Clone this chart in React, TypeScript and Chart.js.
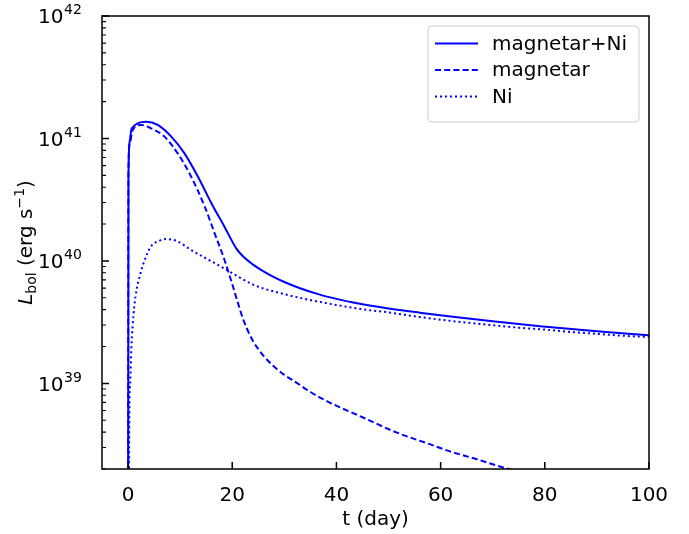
import React, { useEffect, useRef } from "react";
import { Chart, registerables } from "chart.js";

Chart.register(...registerables);

// ---- data (t in days, L_bol in erg/s) ----
const tSolid = [0, 0.08, 0.3, 0.6, 1.0, 1.85, 3.5, 5.7, 8.3, 10.8, 13.4, 16, 18.5, 20.8, 22, 24, 26, 28, 30, 33, 36.8, 40, 43, 50, 56, 61.5, 70, 79.1, 90, 100];
const lSolid = [1e37, 5.0e40, 9.33e40, 1.17e41, 1.245e41, 1.33e41, 1.37e41, 1.29e41, 1.035e41, 7.59e40, 4.89e40, 2.96e40, 1.905e40, 1.26e40, 1.096e40, 9.33e39, 8.22e39, 7.38e39, 6.73e39, 5.98e39, 5.31e39, 4.90e39, 4.59e39, 4.09e39, 3.78e39, 3.54e39, 3.22e39, 2.93e39, 2.66e39, 2.47e39];

const tMag = [0, 0.08, 0.3, 0.9, 2.5, 4.4, 7.0, 9.5, 12.1, 14.7, 16.6, 18.5, 20, 21, 22, 23, 24, 25, 26, 27.8, 30, 32.3, 35, 38.7, 45.1, 51.5, 57.9, 61.5, 67, 72, 76, 80];
const lMag = [1e37, 5.0e40, 8.9e40, 1.175e41, 1.29e41, 1.21e41, 1.035e41, 7.59e40, 4.89e40, 2.79e40, 1.69e40, 1.023e40, 6.46e39, 4.68e39, 3.43e39, 2.69e39, 2.21e39, 1.905e39, 1.68e39, 1.40e39, 1.175e39, 1.016e39, 8.51e38, 6.98e38, 5.27e38, 3.98e38, 3.19e38, 2.81e38, 2.40e38, 2.06e38, 1.86e38, 1.70e38];

const tNi = [0.05, 0.25, 0.44, 0.63, 0.88, 1.2, 1.65, 2.4, 3.1, 4.4, 6.0, 7.3, 9.5, 12, 16, 18, 21, 24, 26, 30, 35, 40, 45, 50, 55, 60, 65, 70, 75, 80, 85, 90, 95, 100];
const lNi = [1e37, 5.43e38, 1.08e39, 1.90e39, 2.93e39, 4.27e39, 5.83e39, 7.98e39, 9.93e39, 1.315e40, 1.46e40, 1.51e40, 1.445e40, 1.236e40, 9.93e39, 8.91e39, 7.50e39, 6.41e39, 5.96e39, 5.35e39, 4.79e39, 4.37e39, 4.03e39, 3.80e39, 3.53e39, 3.31e39, 3.14e39, 2.99e39, 2.85e39, 2.75e39, 2.63e39, 2.54e39, 2.45e39, 2.39e39];

const seriesLabels = ["magnetar+Ni", "magnetar", "Ni"];
const xTicks = [0, 20, 40, 60, 80, 100];
const yTicks = [1e39, 1e40, 1e41, 1e42];
const yTickExponents = ["39", "40", "41", "42"];
const xTitle = "t (day)";

const BLUE = "#0000ff";
const FONT = "DejaVu Sans";
const DASHES: number[][] = [[], [6, 3.2], [2, 3]];

const decorPlugin = {
  id: "decor",
  afterDraw(chart: any) {
    const { ctx, chartArea, scales } = chart;
    const { left, right, top, bottom } = chartArea;
    const xs = scales.x;
    const ys = scales.y;
    ctx.save();
    ctx.setLineDash([]);
    ctx.strokeStyle = "#000";
    ctx.fillStyle = "#000";

    // frame
    ctx.lineWidth = 1.5;
    ctx.strokeRect(left, top, right - left, bottom - top);

    // x major ticks (inward)
    ctx.beginPath();
    xTicks.forEach((v) => {
      const px = xs.getPixelForValue(v);
      ctx.moveTo(px, bottom);
      ctx.lineTo(px, bottom - 7);
    });
    ctx.stroke();

    // y major ticks (inward)
    ctx.beginPath();
    yTicks.forEach((v) => {
      const py = ys.getPixelForValue(v);
      ctx.moveTo(left, py);
      ctx.lineTo(left + 7, py);
    });
    ctx.stroke();

    // y minor ticks
    ctx.lineWidth = 1.1;
    ctx.beginPath();
    for (let k = 38; k <= 41; k++) {
      for (let m = 2; m <= 9; m++) {
        const v = m * Math.pow(10, k);
        if (v < ys.min || v > ys.max) continue;
        const py = ys.getPixelForValue(v);
        ctx.moveTo(left, py);
        ctx.lineTo(left + 4, py);
      }
    }
    ctx.stroke();

    // y tick labels 10^k
    yTicks.forEach((v, i) => {
      const py = ys.getPixelForValue(v);
      ctx.textAlign = "left";
      ctx.textBaseline = "alphabetic";
      ctx.font = `20px "${FONT}"`;
      ctx.fillText("10", 38, py + 7.3);
      ctx.font = `14px "${FONT}"`;
      ctx.fillText(yTickExponents[i], 64, py - 1.8);
    });

    // y title: L_bol (erg s^-1)
    const parts = [
      { t: "L", f: `italic 20px "${FONT}"`, dy: 0 },
      { t: "bol", f: `14px "${FONT}"`, dy: 4 },
      { t: " (erg s", f: `20px "${FONT}"`, dy: 0 },
      { t: "\u22121", f: `14px "${FONT}"`, dy: -8 },
      { t: ")", f: `20px "${FONT}"`, dy: 0 },
    ];
    let total = 0;
    const widths = parts.map((p) => {
      ctx.font = p.f;
      const w = ctx.measureText(p.t).width;
      total += w;
      return w;
    });
    const cy = (top + bottom) / 2;
    ctx.translate(32, cy);
    ctx.rotate(-Math.PI / 2);
    let cx = -total / 2;
    parts.forEach((p, i) => {
      ctx.font = p.f;
      ctx.fillText(p.t, cx, p.dy);
      cx += widths[i];
    });
    ctx.setTransform(1, 0, 0, 1, 0, 0);

    // legend
    const lx = 428, ly = 26, lw = 211, lh = 96;
    ctx.beginPath();
    ctx.roundRect(lx, ly, lw, lh, 4);
    ctx.fillStyle = "rgba(255,255,255,0.8)";
    ctx.fill();
    ctx.strokeStyle = "#cccccc";
    ctx.lineWidth = 1;
    ctx.stroke();
    const rows = [43.5, 70, 96.5];
    seriesLabels.forEach((lab, i) => {
      ctx.beginPath();
      ctx.strokeStyle = BLUE;
      ctx.lineWidth = 2;
      ctx.setLineDash(DASHES[i]);
      ctx.moveTo(435, rows[i]);
      ctx.lineTo(478, rows[i]);
      ctx.stroke();
      ctx.setLineDash([]);
      ctx.fillStyle = "#000";
      ctx.font = `20px "${FONT}"`;
      ctx.textAlign = "left";
      ctx.textBaseline = "alphabetic";
      ctx.fillText(lab, 492, rows[i] + 6);
    });

    ctx.restore();
  },
};

export default function App() {
  const ref = useRef<HTMLCanvasElement | null>(null);

  useEffect(() => {
    if (!ref.current) return;
    const mk = (ts: number[], ls: number[]) => ts.map((t, i) => ({ x: t, y: ls[i] }));
    const chart = new Chart(ref.current, {
      type: "line",
      data: {
        datasets: [
          { label: seriesLabels[0], data: mk(tSolid, lSolid), borderDash: DASHES[0] },
          { label: seriesLabels[1], data: mk(tMag, lMag), borderDash: DASHES[1] },
          { label: seriesLabels[2], data: mk(tNi, lNi), borderDash: DASHES[2] },
        ].map((d) => ({
          ...d,
          borderColor: BLUE,
          backgroundColor: BLUE,
          borderWidth: 2,
          pointRadius: 0,
          fill: false,
          cubicInterpolationMode: "monotone" as const,
        })),
      },
      options: {
        responsive: false,
        animation: false,
        events: [],
        layout: { padding: { left: 0, right: 40, top: 16, bottom: 0 } },
        plugins: { legend: { display: false }, tooltip: { enabled: false } },
        scales: {
          x: {
            type: "linear",
            min: -5,
            max: 100,
            afterBuildTicks: (s: any) => {
              s.ticks = xTicks.map((v) => ({ value: v }));
            },
            afterFit: (s: any) => {
              s.height = 65;
            },
            grid: { display: false, drawTicks: false },
            border: { display: false },
            ticks: {
              padding: 15,
              color: "#000",
              autoSkip: false,
              maxRotation: 0,
              font: { family: FONT, size: 20 },
            },
            title: {
              display: true,
              text: xTitle,
              color: "#000",
              font: { family: FONT, size: 20 },
              padding: { top: 0, bottom: 2 },
            },
          },
          y: {
            type: "logarithmic",
            min: 2e38,
            max: 1e42,
            afterFit: (s: any) => {
              s.width = 102;
            },
            ticks: { display: false },
            grid: { display: false, drawTicks: false },
            border: { display: false },
          },
        },
      },
      plugins: [decorPlugin],
    });
    return () => chart.destroy();
  }, []);

  return (
    <div style={{ position: "absolute", left: 0, top: 0, width: 689, height: 534, background: "#fff" }}>
      <canvas ref={ref} width={689} height={534} style={{ display: "block" }} />
    </div>
  );
}
